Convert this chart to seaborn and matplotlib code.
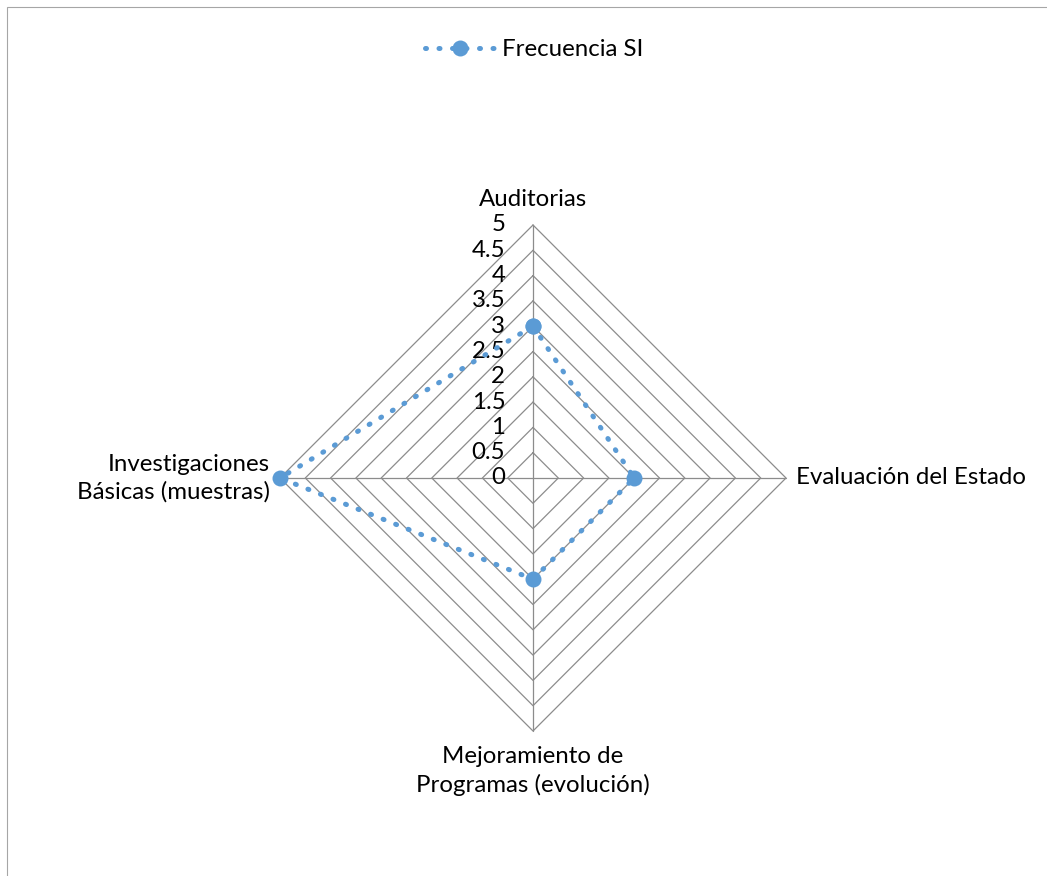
import numpy as np
import pandas as pd
import seaborn as sns
import matplotlib.pyplot as plt
from matplotlib.patches import Rectangle

# === Data ===
categories = ["Auditorias", "Evaluación del Estado",
              "Mejoramiento de\nProgramas (evolución)",
              "Investigaciones\nBásicas (muestras)"]
values = [3, 2, 2, 5]
series_name = "Frecuencia SI"
ticks = [0, 0.5, 1, 1.5, 2, 2.5, 3, 3.5, 4, 4.5, 5]
tick_labels = ["0", "0.5", "1", "1.5", "2", "2.5", "3", "3.5", "4", "4.5", "5"]

blue = "#5B9BD5"
grid_col = "#8C8C8C"
fs = 17.3

sns.set_theme(style="white")
plt.rcParams["font.family"] = ["Lato", "DejaVu Sans"]
plt.rcParams["text.color"] = "black"

# angles clockwise from top
n = len(categories)
angles = np.arange(n) * 2 * np.pi / n
closed = np.append(angles, angles[0])

fig = plt.figure(figsize=(10.47, 8.76), dpi=100)
ax = fig.add_axes([0, 0, 1, 1])
unit = 253 / 5  # pixels per value unit
ax.set_xlim(-533 / unit, (1047 - 533) / unit)
ax.set_ylim(-(876 - 478) / unit, 478 / unit)
ax.set_aspect("equal")
ax.axis("off")

# grid polygons
for r in ticks[1:]:
    ax.plot(r * np.sin(closed), r * np.cos(closed), color=grid_col, lw=0.9, zorder=1)
# spokes
for a in angles:
    ax.plot([0, ticks[-1] * np.sin(a)], [0, ticks[-1] * np.cos(a)], color=grid_col, lw=0.9, zorder=1)

# tick labels along top spoke
for t, lab in zip(ticks, tick_labels):
    ax.text(-0.55, t, lab, ha="right", va="center", fontsize=fs)

# category labels
rmax = ticks[-1]
ax.text(0, rmax + 0.3, categories[0], ha="center", va="bottom", fontsize=fs)
ax.text(rmax + 0.2, 0, categories[1], ha="left", va="center", fontsize=fs)
ax.text(0, -rmax - 0.3, categories[2], ha="center", va="top", fontsize=fs, linespacing=1.38)
ax.text(-rmax - 0.2, 0, categories[3], ha="right", va="center", fontsize=fs, linespacing=1.35)

# series
vals = np.append(values, values[0])
df = pd.DataFrame({"x": vals * np.sin(closed), "y": vals * np.cos(closed)})
sns.lineplot(data=df, x="x", y="y", sort=False, estimator=None, ax=ax,
             color=blue, lw=3.6, linestyle=(0, (0.2, 2.5)), dash_capstyle="round",
             marker="o", markersize=11.5, markeredgewidth=0, label=series_name, zorder=3)
ax.set_xlabel("")
ax.set_ylabel("")

leg = ax.legend(loc="upper center", bbox_to_anchor=(0.51, 0.98), frameon=False,
                fontsize=fs, handlelength=2.9, handletextpad=0.3)

# outer chart border (top and left visible)
fig.patches.append(Rectangle((7 / 1047, -0.05), 1.2, 1.05 - 7 / 876, transform=fig.transFigure,
                             fill=False, edgecolor="#A6A6A6", lw=0.8))

fig.savefig("out.png", dpi=100)
